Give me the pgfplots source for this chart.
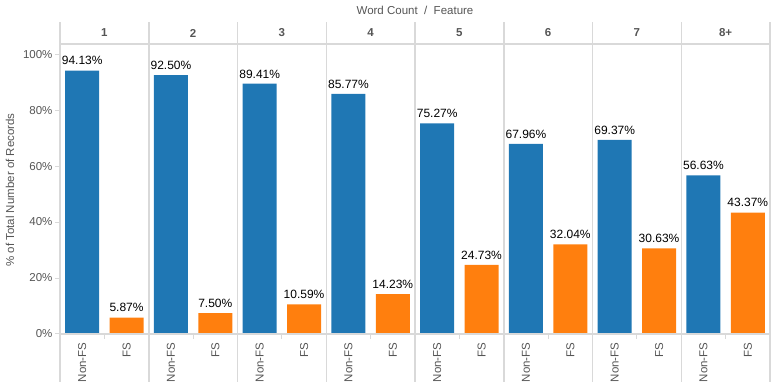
\documentclass[border=0pt]{standalone}
\usepackage{pgfplots}
\pgfplotsset{compat=1.18}
\usepackage{fontspec}
\setmainfont{Liberation Sans}
\definecolor{tblue}{HTML}{1F77B4}
\definecolor{torange}{HTML}{FF7F0E}
\definecolor{tgrid}{HTML}{D9D9D9}
\definecolor{ttext}{HTML}{555555}
\begin{document}
\begin{tikzpicture}[x=1pt,y=1pt]
\path[use as bounding box] (0,0) rectangle (771,382);
\begin{axis}[
  at={(60pt,48pt)}, anchor=south west,
  scale only axis, width=710pt, height=290pt,
  xmin=-0.5, xmax=15.5, ymin=0, ymax=103.6,
  axis line style={draw=none},
  clip=false,
  /pgf/number format/assume math mode=true,
  ytick={0,20,40,60,80,100},
  yticklabels={0\%,20\%,40\%,60\%,80\%,100\%},
  yticklabel style={font=\fontsize{11.5}{13}\selectfont, text=ttext, xshift=1pt},
  ytick style={draw=tgrid, line width=1pt},
  tick align=outside,
  major tick length=5pt,
  xtick={0,...,15},
  xticklabels={Non-FS,FS,Non-FS,FS,Non-FS,FS,Non-FS,FS,Non-FS,FS,Non-FS,FS,Non-FS,FS,Non-FS,FS},
  xticklabel style={rotate=90, anchor=east, font=\fontsize{11.5}{13}\selectfont, text=ttext},
  x tick style={draw=none},
  xtick pos=bottom, ytick pos=left,
  ybar, bar width=34pt,
  nodes near coords={\pgfmathprintnumber[fixed,fixed zerofill,precision=2,assume math mode=true]{\pgfplotspointmeta}\%},
  nodes near coords style={font=\fontsize{12}{14}\selectfont, text=black, anchor=south, yshift=2pt},
]
\addplot[fill=tblue, draw=none, bar shift=0pt] coordinates {
  (0,94.13) (2,92.50) (4,89.41) (6,85.77) (8,75.27) (10,67.96) (12,69.37) (14,56.63)};
\addplot[fill=torange, draw=none, bar shift=0pt] coordinates {
  (1,5.87) (3,7.50) (5,10.59) (7,14.23) (9,24.73) (11,32.04) (13,30.63) (15,43.37)};
\end{axis}
% frame lines
\foreach \k in {0,...,8} {
  \draw[tgrid, line width=1.5pt] ({60+88.75*\k},0) -- ({60+88.75*\k},360);
}
\draw[tgrid, line width=2pt] (60,338) -- (770,338);
\draw[tgrid, line width=1.2pt] (60,48) -- (770,48);
\foreach \k in {0,...,7} {
  \draw[tgrid, line width=1pt] ({60+88.75*\k+44.375},48) -- ({60+88.75*\k+44.375},43);
}
% headers
\foreach \k/\t in {0/1,1/2,2/3,3/4,4/5,5/6,6/7,7/8+} {
  \node[font=\bfseries\fontsize{11.5}{13}\selectfont, text=ttext] at ({60+88.75*(\k+0.5)},349) {\t};
}
\node[font=\fontsize{11.5}{13}\selectfont, text=ttext] at (415,372) {Word Count \ / \ Feature};
\node[font=\fontsize{11.5}{13}\selectfont, text=ttext, rotate=90] at (10,192) {\% of Total Number of Records};
\end{tikzpicture}
\end{document}
